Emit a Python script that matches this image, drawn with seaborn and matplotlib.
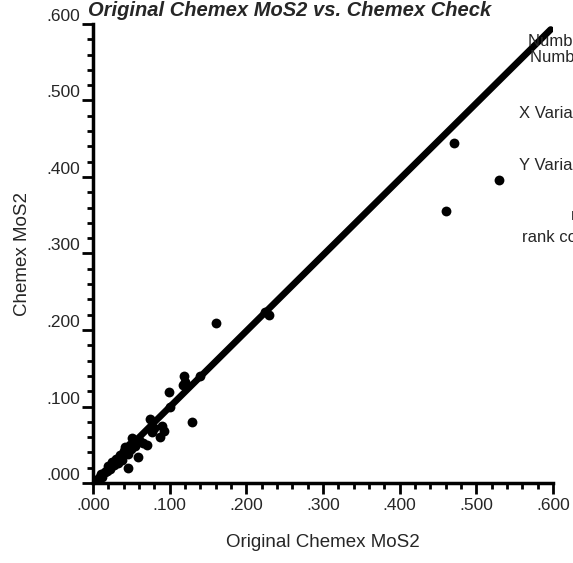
import numpy as np
import pandas as pd
import matplotlib
matplotlib.use("Agg")
import matplotlib.pyplot as plt
import seaborn as sb
from matplotlib.ticker import MultipleLocator, FuncFormatter

# Original Chemex MoS2 (x) vs Chemex check (y)
orig_mos2 = [0.005, 0.008, 0.010, 0.012, 0.015, 0.018, 0.020, 0.022, 0.025, 0.028,
             0.030, 0.032, 0.035, 0.038, 0.040, 0.042, 0.045, 0.046, 0.048, 0.050,
             0.051, 0.055, 0.059, 0.060, 0.065, 0.070, 0.074, 0.077, 0.080, 0.087,
             0.090, 0.092, 0.099, 0.100, 0.117, 0.119, 0.120, 0.129, 0.140, 0.160,
             0.224, 0.230, 0.460, 0.471, 0.530]
check_mos2 = [0.004, 0.006, 0.012, 0.008, 0.014, 0.016, 0.022, 0.018, 0.028, 0.024,
              0.032, 0.026, 0.036, 0.030, 0.042, 0.047, 0.038, 0.020, 0.050, 0.044,
              0.059, 0.048, 0.034, 0.056, 0.052, 0.050, 0.084, 0.067, 0.072, 0.060,
              0.074, 0.068, 0.119, 0.099, 0.128, 0.140, 0.132, 0.080, 0.140, 0.209,
              0.224, 0.220, 0.356, 0.444, 0.396]

# regression line
fit_x = [0.0, 0.597]
fit_slope = 0.993
fit_intercept = 0.0

# stats box on the right (cut off at the page edge, as in the scan)
side_labels = ["Number of Points", "Number Missing", "X Variable", "Y Variable",
               "r", "rank correlation"]

df = pd.DataFrame({"orig": orig_mos2, "check": check_mos2})
line_df = pd.DataFrame({"x": fit_x})
line_df["y"] = fit_intercept + fit_slope * line_df["x"]

sb.set_style("ticks")
plt.rcParams["font.family"] = ["Liberation Sans", "DejaVu Sans"]

fig = plt.figure(figsize=(5.73, 5.63), dpi=100)
ax = fig.add_axes([93 / 573, 1 - 483 / 563, 460 / 573, 459 / 563])

sb.lineplot(data=line_df, x="x", y="y", color="black", linewidth=4.8, ax=ax)
sb.scatterplot(data=df, x="orig", y="check", color="black", s=50,
               edgecolor="black", linewidth=0, ax=ax, zorder=3)

ax.set_xlim(0, 0.6)
ax.set_ylim(0, 0.6)

fmt = FuncFormatter(lambda v, p: f"{v:.3f}"[1:] if v >= 0 else f"{v:.3f}")
for axis in (ax.xaxis, ax.yaxis):
    axis.set_major_locator(MultipleLocator(0.1))
    axis.set_minor_locator(MultipleLocator(0.02))
    axis.set_major_formatter(fmt)

ax.tick_params(which="major", length=8, width=2, labelsize=12.5, color="black")
ax.tick_params(which="minor", length=4, width=2, color="black")
ax.tick_params(axis="x", pad=3)
ax.tick_params(axis="y", pad=1)
for lab in ax.get_yticklabels():
    lab.set_va("bottom")

for side in ("top", "right"):
    ax.spines[side].set_visible(False)
for side in ("left", "bottom"):
    ax.spines[side].set_linewidth(2.5)
    ax.spines[side].set_color("black")

ax.set_xlabel("Original Chemex MoS2", fontsize=13.5, labelpad=15)
ax.set_ylabel("Chemex MoS2", fontsize=13.5, labelpad=11)

fig.text(88 / 573, 1 - 11 / 563, "Original Chemex MoS2 vs. Chemex Check",
         fontsize=14.5, fontweight="bold", fontstyle="italic", va="center", ha="left")

side_pos = [(528, 42), (530, 58), (519, 113), (519, 165), (571, 216), (522, 237)]
for lab, (px, py) in zip(side_labels, side_pos):
    fig.text(px / 573, 1 - py / 563, lab, fontsize=12, va="center", ha="left")

plt.savefig("out.png", dpi=100)
